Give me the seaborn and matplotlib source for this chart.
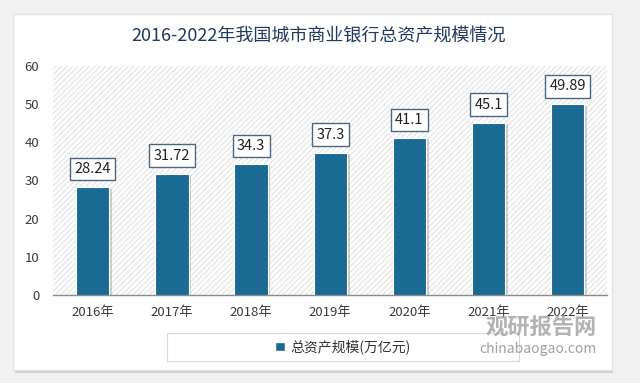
import matplotlib
matplotlib.use("Agg")
import matplotlib.pyplot as plt
import matplotlib.patheffects as pe
from matplotlib.patches import Rectangle, FancyBboxPatch
import seaborn as sns
import pandas as pd

years = ["2016年", "2017年", "2018年", "2019年", "2020年", "2021年", "2022年"]
assets = [28.24, 31.72, 34.3, 37.3, 41.1, 45.1, 49.89]
value_labels = ["28.24", "31.72", "34.3", "37.3", "41.1", "45.1", "49.89"]
series_name = "总资产规模(万亿元)"
title = "2016-2022年我国城市商业银行总资产规模情况"

sns.set_style("white")
plt.rcParams["font.family"] = ["Noto Sans CJK SC", "DejaVu Sans"]
plt.rcParams["hatch.linewidth"] = 0.8

bar_color = "#1a6a94"
df = pd.DataFrame({"year": years, "value": assets})

fig = plt.figure(figsize=(6.4, 3.83), dpi=100)
fig.patch.set_facecolor("#f1f1f1")

# white card behind everything
card = FancyBboxPatch((0.021, 0.034), 0.935, 0.929, boxstyle="square,pad=0",
                      transform=fig.transFigure, facecolor="white",
                      edgecolor="#e4e4e4", linewidth=1.0, zorder=-5)
card.set_path_effects([pe.SimplePatchShadow(offset=(1, -2), shadow_rgbFace="#b0b0b0", alpha=0.5), pe.Normal()])
fig.patches.append(card)

fig.text(0.497, 0.905, title, ha="center", va="center", fontsize=13,
         color="#1f3a5f", fontweight="medium")

ax = fig.add_axes([0.083, 0.23, 0.866, 0.598], zorder=2)
ax.set_facecolor("white")
ax.add_patch(Rectangle((0, 0), 1, 1, transform=ax.transAxes, facecolor="white",
                       edgecolor="#e2e2e2", hatch="//////", linewidth=0, zorder=0))

sns.barplot(data=df, x="year", y="value", color=bar_color, width=0.42,
            saturation=1, ax=ax, zorder=3)

for bar in ax.patches:
    if isinstance(bar, Rectangle) and bar.get_facecolor()[0] < 0.5:
        bar.set_edgecolor("white")
        bar.set_linewidth(0.8)
        bar.set_path_effects([pe.SimplePatchShadow(offset=(2, -1), shadow_rgbFace="#9a9a9a", alpha=0.45), pe.Normal()])

for i, (v, lab) in enumerate(zip(assets, value_labels)):
    ax.annotate(lab, (i, v), xytext=(0, 18), textcoords="offset pixels",
                ha="center", va="center", fontsize=10.5, color="#222222", zorder=5,
                bbox=dict(boxstyle="square,pad=0.3", facecolor="white",
                          edgecolor="#4a6780", linewidth=1.0))

ax.set_ylim(0, 60)
ax.set_xlim(-0.5, 6.5)
ax.set_yticks(range(0, 61, 10))
ax.set_xlabel("")
ax.set_ylabel("")
ax.tick_params(axis="both", length=0, labelsize=9.5, colors="#3a3a3a")
ax.tick_params(axis="y", pad=10)
ax.tick_params(axis="x", pad=8)
for s in ["top", "right", "left"]:
    ax.spines[s].set_visible(False)
ax.spines["bottom"].set_color("#8c8c8c")
ax.spines["bottom"].set_linewidth(1.0)

# legend frame and entry
fig.patches.append(Rectangle((167 / 640, 1 - 361 / 383), 352 / 640, 28 / 383,
                             transform=fig.transFigure, facecolor="white",
                             edgecolor="#d9d9d9", linewidth=0.8, zorder=1))
handle = Rectangle((0, 0), 1, 1, facecolor=bar_color)
fig.legend([handle], [series_name], loc="center", bbox_to_anchor=(343 / 640, 1 - 347 / 383),
           frameon=False, fontsize=10, handlelength=0.7, handleheight=0.7,
           handletextpad=0.4, labelcolor="#333333")

# watermark
fig.text(0.845, 0.142, "观研报告网", ha="center", va="center", fontsize=16,
         fontweight="bold", color="#9a9a9a", alpha=0.75, zorder=4)
fig.text(0.84, 0.088, "chinabaogao.com", ha="center", va="center", fontsize=10,
         color="#8a8a8a", alpha=0.8, zorder=4)

fig.savefig("out.png", dpi=100, facecolor=fig.get_facecolor())
